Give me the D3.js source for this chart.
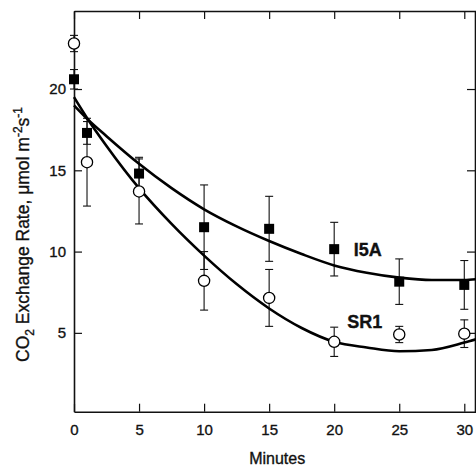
<!DOCTYPE html>
<html>
<head>
<meta charset="utf-8">
<script src="https://cdn.jsdelivr.net/npm/d3@7/dist/d3.min.js"></script>
<style>
  html, body { margin: 0; padding: 0; background: #fff; }
  svg { display: block; }
  text { font-family: "Liberation Sans", Arial, Helvetica, sans-serif; fill: #111; stroke: #111; stroke-width: 0.35px; }
</style>
</head>
<body>
<svg id="chart" width="476" height="469"></svg>
<script>
// ---- data ----
const minutes = [0, 1, 5, 10, 15, 20, 25, 30];
const i5aValues = [20.6, 17.3, 14.8, 11.5, 11.4, 10.15, 8.15, 7.95];
const i5aErrors = [0.6, 0.7, 1.0, 2.6, 2.0, 1.65, 1.4, 1.5];
const sr1Values = [22.8, 15.5, 13.7, 8.2, 7.15, 4.45, 4.9, 4.95];
const sr1Errors = [0.5, 2.7, 2.0, 1.8, 1.75, 0.9, 0.5, 0.85];

// fitted curves
const curveMinutes = [0, 1.1, 2.5, 5, 7.5, 10, 12.5, 15, 17.5, 20, 22.5, 25, 27.5, 30, 30.9];
const i5aCurve = [19.0, 18.1, 17.1, 15.4, 13.9, 12.6, 11.55, 10.65, 9.85, 9.15, 8.7, 8.4, 8.25, 8.25, 8.3];
const sr1Curve = [19.5, 18.1, 16.5, 13.9, 11.7, 9.75, 8.0, 6.5, 5.3, 4.45, 4.1, 3.87, 3.95, 4.4, 4.6];

const xTicks = [0, 5, 10, 15, 20, 25, 30];
const yTicks = [5, 10, 15, 20];
const seriesLabels = ["I5A", "SR1"];

// ---- layout ----
const svg = d3.select("#chart");
const mLeft = 74, mRight = 476, mTop = 11, mBottom = 411.7;

const x = d3.scaleLinear().domain([0, 30.9]).range([mLeft, mRight]);
const y = d3.scaleLinear().domain([0.15, 24.8]).range([mBottom, mTop]);

// axes
const axisStroke = "#111";
function styleAxis(g) {
  g.selectAll("path.domain").attr("stroke", axisStroke).attr("stroke-width", 1.6);
  g.selectAll(".tick line").attr("stroke", axisStroke).attr("stroke-width", 1.2);
  g.selectAll(".tick text").style("font-size", "15px").attr("fill", "#111");
}

svg.append("g").attr("transform", `translate(0,${mBottom})`)
  .call(d3.axisBottom(x).tickValues(xTicks).tickSizeInner(-8).tickSizeOuter(0).tickPadding(13).tickFormat(d3.format("d")))
  .call(styleAxis);

svg.append("g").attr("transform", `translate(${mLeft},0)`)
  .call(d3.axisLeft(y).tickValues(yTicks).tickSizeInner(-8).tickSizeOuter(0).tickPadding(8).tickFormat(d3.format("d")))
  .call(styleAxis);

svg.append("g").attr("transform", `translate(0,${mTop})`)
  .call(d3.axisTop(x).tickValues(xTicks).tickSizeInner(-8).tickSizeOuter(0).tickFormat(""))
  .call(styleAxis);

svg.append("g").attr("transform", `translate(${mRight - 1},0)`)
  .call(d3.axisRight(y).tickValues(yTicks).tickSizeInner(-8).tickSizeOuter(0).tickFormat(""))
  .call(styleAxis);

// axis titles
svg.append("text")
  .attr("x", (mLeft + x(30)) / 2 + 8).attr("y", 464)
  .attr("text-anchor", "middle")
  .style("font-size", "16px")
  .text("Minutes");

const yt = svg.append("text")
  .attr("transform", "translate(29,362) rotate(-90)")
  .attr("text-anchor", "start")
  .style("font-size", "17.5px");
yt.append("tspan").text("CO");
yt.append("tspan").attr("dy", 5).style("font-size", "12px").text("2");
yt.append("tspan").attr("dy", -5).text(" Exchange Rate, \u03bcmol m");
yt.append("tspan").attr("dy", -7).style("font-size", "12px").text("-2");
yt.append("tspan").attr("dy", 7).text("s");
yt.append("tspan").attr("dy", -7).style("font-size", "12px").text("-1");

// error bars
const capW = 4;
function errorBars(vals, errs) {
  const g = svg.append("g").attr("stroke", "#111").attr("stroke-width", 1.1);
  minutes.forEach((m, i) => {
    const cx = x(m), y1 = y(vals[i] + errs[i]), y0 = y(vals[i] - errs[i]);
    g.append("line").attr("x1", cx).attr("x2", cx).attr("y1", y1).attr("y2", y0);
    g.append("line").attr("x1", cx - capW).attr("x2", cx + capW).attr("y1", y1).attr("y2", y1);
    g.append("line").attr("x1", cx - capW).attr("x2", cx + capW).attr("y1", y0).attr("y2", y0);
  });
}
errorBars(i5aValues, i5aErrors);
errorBars(sr1Values, sr1Errors);

// fitted curves
const line = d3.line().x((d, i) => x(curveMinutes[i])).y(d => y(d)).curve(d3.curveMonotoneX);
svg.append("path").datum(i5aCurve).attr("d", line)
  .attr("fill", "none").attr("stroke", "#000").attr("stroke-width", 2.6);
svg.append("path").datum(sr1Curve).attr("d", line)
  .attr("fill", "none").attr("stroke", "#000").attr("stroke-width", 2.6);

// markers
const sq = 10;
svg.append("g").selectAll("rect").data(i5aValues).join("rect")
  .attr("x", (d, i) => x(minutes[i]) - sq / 2)
  .attr("y", d => y(d) - sq / 2)
  .attr("width", sq).attr("height", sq).attr("fill", "#000");

svg.append("g").selectAll("circle").data(sr1Values).join("circle")
  .attr("cx", (d, i) => x(minutes[i]))
  .attr("cy", d => y(d))
  .attr("r", 5.6).attr("fill", "#fff").attr("stroke", "#000").attr("stroke-width", 1.3);

// series labels
svg.append("text").attr("x", x(21.5)).attr("y", y(9.75))
  .style("font-size", "18px").style("font-weight", "bold").text(seriesLabels[0]);
svg.append("text").attr("x", x(21)).attr("y", y(5.3))
  .style("font-size", "18px").style("font-weight", "bold").text(seriesLabels[1]);
</script>
</body>
</html>
